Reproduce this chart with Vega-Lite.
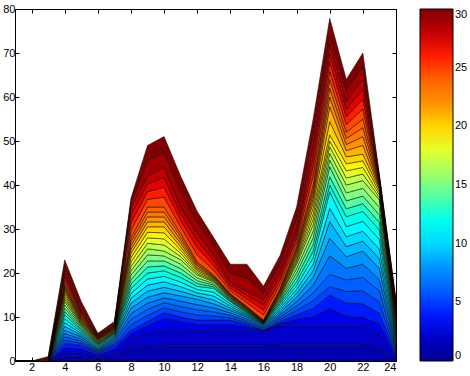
{
"$schema": "https://vega.github.io/schema/vega-lite/v6.json",
"width": 381, "height": 352,
"autosize": "none",
"padding": {"left": 15, "top": 9, "right": 74, "bottom": 15},
"background": "white",
"config": {
  "view": {"stroke": "black", "strokeWidth": 1},
  "font": "Liberation Sans",
  "axis": {"grid": false, "domain": false, "tickColor": "black", "tickSize": -4, "labelColor": "black", "labelFontSize": 11, "labelFont": "Liberation Sans", "title": null, "labelPadding": 4},
  "legend": {"gradientLength": 352, "gradientThickness": 33, "offset": 23, "padding": 0, "labelFontSize": 11, "labelColor": "black", "labelOffset": 3, "gradientStrokeColor": "black", "gradientStrokeWidth": 1}
},
"datasets": {"d": [
{"x":1,"k":1,"v":0},{"x":1,"k":2,"v":0},{"x":1,"k":3,"v":0},{"x":1,"k":4,"v":0},{"x":1,"k":5,"v":0},{"x":1,"k":6,"v":0},{"x":1,"k":7,"v":0},{"x":1,"k":8,"v":0},{"x":1,"k":9,"v":0},{"x":1,"k":10,"v":0},{"x":1,"k":11,"v":0},{"x":1,"k":12,"v":0},{"x":1,"k":13,"v":0},{"x":1,"k":14,"v":0},{"x":1,"k":15,"v":0},{"x":1,"k":16,"v":0},{"x":1,"k":17,"v":0},{"x":1,"k":18,"v":0},{"x":1,"k":19,"v":0},{"x":1,"k":20,"v":0},{"x":1,"k":21,"v":0},{"x":1,"k":22,"v":0},{"x":1,"k":23,"v":0},{"x":1,"k":24,"v":0},{"x":1,"k":25,"v":0},{"x":1,"k":26,"v":0},{"x":1,"k":27,"v":0},{"x":1,"k":28,"v":0},{"x":1,"k":29,"v":0},{"x":1,"k":30,"v":0},
{"x":2,"k":1,"v":0},{"x":2,"k":2,"v":0},{"x":2,"k":3,"v":0},{"x":2,"k":4,"v":0},{"x":2,"k":5,"v":0},{"x":2,"k":6,"v":0},{"x":2,"k":7,"v":0},{"x":2,"k":8,"v":0},{"x":2,"k":9,"v":0},{"x":2,"k":10,"v":0},{"x":2,"k":11,"v":0},{"x":2,"k":12,"v":0},{"x":2,"k":13,"v":0},{"x":2,"k":14,"v":0},{"x":2,"k":15,"v":0},{"x":2,"k":16,"v":0},{"x":2,"k":17,"v":0},{"x":2,"k":18,"v":0},{"x":2,"k":19,"v":0},{"x":2,"k":20,"v":0},{"x":2,"k":21,"v":0},{"x":2,"k":22,"v":0},{"x":2,"k":23,"v":0},{"x":2,"k":24,"v":0},{"x":2,"k":25,"v":0},{"x":2,"k":26,"v":0},{"x":2,"k":27,"v":0},{"x":2,"k":28,"v":0},{"x":2,"k":29,"v":0},{"x":2,"k":30,"v":0},
{"x":3,"k":1,"v":0},{"x":3,"k":2,"v":0},{"x":3,"k":3,"v":0},{"x":3,"k":4,"v":0},{"x":3,"k":5,"v":0},{"x":3,"k":6,"v":0},{"x":3,"k":7,"v":0},{"x":3,"k":8,"v":0},{"x":3,"k":9,"v":0},{"x":3,"k":10,"v":0},{"x":3,"k":11,"v":0},{"x":3,"k":12,"v":0},{"x":3,"k":13,"v":0},{"x":3,"k":14,"v":0},{"x":3,"k":15,"v":0},{"x":3,"k":16,"v":0},{"x":3,"k":17,"v":0},{"x":3,"k":18,"v":0},{"x":3,"k":19,"v":0},{"x":3,"k":20,"v":0},{"x":3,"k":21,"v":0},{"x":3,"k":22,"v":0},{"x":3,"k":23,"v":0},{"x":3,"k":24,"v":0},{"x":3,"k":25,"v":0},{"x":3,"k":26,"v":0},{"x":3,"k":27,"v":0},{"x":3,"k":28,"v":0},{"x":3,"k":29,"v":0.5},{"x":3,"k":30,"v":0.5},
{"x":4,"k":1,"v":1},{"x":4,"k":2,"v":1},{"x":4,"k":3,"v":1},{"x":4,"k":4,"v":1},{"x":4,"k":5,"v":0.75},{"x":4,"k":6,"v":0.75},{"x":4,"k":7,"v":0.75},{"x":4,"k":8,"v":0.75},{"x":4,"k":9,"v":0.875},{"x":4,"k":10,"v":0.875},{"x":4,"k":11,"v":0.875},{"x":4,"k":12,"v":0.875},{"x":4,"k":13,"v":0.75},{"x":4,"k":14,"v":0.75},{"x":4,"k":15,"v":0.75},{"x":4,"k":16,"v":0.75},{"x":4,"k":17,"v":0.575},{"x":4,"k":18,"v":0.575},{"x":4,"k":19,"v":0.575},{"x":4,"k":20,"v":0.575},{"x":4,"k":21,"v":0.425},{"x":4,"k":22,"v":0.425},{"x":4,"k":23,"v":0.425},{"x":4,"k":24,"v":0.425},{"x":4,"k":25,"v":0.75},{"x":4,"k":26,"v":0.75},{"x":4,"k":27,"v":0.75},{"x":4,"k":28,"v":0.75},{"x":4,"k":29,"v":1.25},{"x":4,"k":30,"v":1.25},
{"x":5,"k":1,"v":0.9},{"x":5,"k":2,"v":0.9},{"x":5,"k":3,"v":0.9},{"x":5,"k":4,"v":0.9},{"x":5,"k":5,"v":0.475},{"x":5,"k":6,"v":0.475},{"x":5,"k":7,"v":0.475},{"x":5,"k":8,"v":0.475},{"x":5,"k":9,"v":0.375},{"x":5,"k":10,"v":0.375},{"x":5,"k":11,"v":0.375},{"x":5,"k":12,"v":0.375},{"x":5,"k":13,"v":0.3},{"x":5,"k":14,"v":0.3},{"x":5,"k":15,"v":0.3},{"x":5,"k":16,"v":0.3},{"x":5,"k":17,"v":0.2},{"x":5,"k":18,"v":0.2},{"x":5,"k":19,"v":0.2},{"x":5,"k":20,"v":0.2},{"x":5,"k":21,"v":0.25},{"x":5,"k":22,"v":0.25},{"x":5,"k":23,"v":0.25},{"x":5,"k":24,"v":0.25},{"x":5,"k":25,"v":0.375},{"x":5,"k":26,"v":0.375},{"x":5,"k":27,"v":0.375},{"x":5,"k":28,"v":0.375},{"x":5,"k":29,"v":1},{"x":5,"k":30,"v":1},
{"x":6,"k":1,"v":0.45},{"x":6,"k":2,"v":0.45},{"x":6,"k":3,"v":0.45},{"x":6,"k":4,"v":0.45},{"x":6,"k":5,"v":0.225},{"x":6,"k":6,"v":0.225},{"x":6,"k":7,"v":0.225},{"x":6,"k":8,"v":0.225},{"x":6,"k":9,"v":0.225},{"x":6,"k":10,"v":0.225},{"x":6,"k":11,"v":0.225},{"x":6,"k":12,"v":0.225},{"x":6,"k":13,"v":0.15},{"x":6,"k":14,"v":0.15},{"x":6,"k":15,"v":0.15},{"x":6,"k":16,"v":0.15},{"x":6,"k":17,"v":0.15},{"x":6,"k":18,"v":0.15},{"x":6,"k":19,"v":0.15},{"x":6,"k":20,"v":0.15},{"x":6,"k":21,"v":0.1},{"x":6,"k":22,"v":0.1},{"x":6,"k":23,"v":0.1},{"x":6,"k":24,"v":0.1},{"x":6,"k":25,"v":0.15},{"x":6,"k":26,"v":0.15},{"x":6,"k":27,"v":0.15},{"x":6,"k":28,"v":0.15},{"x":6,"k":29,"v":0.25},{"x":6,"k":30,"v":0.25},
{"x":7,"k":1,"v":0.9},{"x":7,"k":2,"v":0.9},{"x":7,"k":3,"v":0.9},{"x":7,"k":4,"v":0.9},{"x":7,"k":5,"v":0.4},{"x":7,"k":6,"v":0.4},{"x":7,"k":7,"v":0.4},{"x":7,"k":8,"v":0.4},{"x":7,"k":9,"v":0.25},{"x":7,"k":10,"v":0.25},{"x":7,"k":11,"v":0.25},{"x":7,"k":12,"v":0.25},{"x":7,"k":13,"v":0.125},{"x":7,"k":14,"v":0.125},{"x":7,"k":15,"v":0.125},{"x":7,"k":16,"v":0.125},{"x":7,"k":17,"v":0.125},{"x":7,"k":18,"v":0.125},{"x":7,"k":19,"v":0.125},{"x":7,"k":20,"v":0.125},{"x":7,"k":21,"v":0.1},{"x":7,"k":22,"v":0.1},{"x":7,"k":23,"v":0.1},{"x":7,"k":24,"v":0.1},{"x":7,"k":25,"v":0.15},{"x":7,"k":26,"v":0.15},{"x":7,"k":27,"v":0.15},{"x":7,"k":28,"v":0.15},{"x":7,"k":29,"v":0.4},{"x":7,"k":30,"v":0.4},
{"x":8,"k":1,"v":3.0},{"x":8,"k":2,"v":2.2},{"x":8,"k":3,"v":1.0},{"x":8,"k":4,"v":0.8},{"x":8,"k":5,"v":1.25},{"x":8,"k":6,"v":1.25},{"x":8,"k":7,"v":1.25},{"x":8,"k":8,"v":1.25},{"x":8,"k":9,"v":1.125},{"x":8,"k":10,"v":1.125},{"x":8,"k":11,"v":1.125},{"x":8,"k":12,"v":1.125},{"x":8,"k":13,"v":1},{"x":8,"k":14,"v":1},{"x":8,"k":15,"v":1},{"x":8,"k":16,"v":1},{"x":8,"k":17,"v":1},{"x":8,"k":18,"v":1},{"x":8,"k":19,"v":1},{"x":8,"k":20,"v":1},{"x":8,"k":21,"v":0.875},{"x":8,"k":22,"v":0.875},{"x":8,"k":23,"v":0.875},{"x":8,"k":24,"v":0.875},{"x":8,"k":25,"v":1.75},{"x":8,"k":26,"v":1.75},{"x":8,"k":27,"v":1.75},{"x":8,"k":28,"v":1.75},{"x":8,"k":29,"v":1},{"x":8,"k":30,"v":1},
{"x":9,"k":1,"v":3.2},{"x":9,"k":2,"v":3.0},{"x":9,"k":3,"v":1.8},{"x":9,"k":4,"v":1.0},{"x":9,"k":5,"v":1.375},{"x":9,"k":6,"v":1.375},{"x":9,"k":7,"v":1.375},{"x":9,"k":8,"v":1.375},{"x":9,"k":9,"v":1.375},{"x":9,"k":10,"v":1.375},{"x":9,"k":11,"v":1.375},{"x":9,"k":12,"v":1.375},{"x":9,"k":13,"v":1.375},{"x":9,"k":14,"v":1.375},{"x":9,"k":15,"v":1.375},{"x":9,"k":16,"v":1.375},{"x":9,"k":17,"v":1.25},{"x":9,"k":18,"v":1.25},{"x":9,"k":19,"v":1.25},{"x":9,"k":20,"v":1.25},{"x":9,"k":21,"v":1.125},{"x":9,"k":22,"v":1.125},{"x":9,"k":23,"v":1.125},{"x":9,"k":24,"v":1.125},{"x":9,"k":25,"v":1.75},{"x":9,"k":26,"v":1.75},{"x":9,"k":27,"v":1.75},{"x":9,"k":28,"v":1.75},{"x":9,"k":29,"v":3.5},{"x":9,"k":30,"v":3.5},
{"x":10,"k":1,"v":3.6},{"x":10,"k":2,"v":3.4},{"x":10,"k":3,"v":2.7},{"x":10,"k":4,"v":1.3},{"x":10,"k":5,"v":1.125},{"x":10,"k":6,"v":1.125},{"x":10,"k":7,"v":1.125},{"x":10,"k":8,"v":1.125},{"x":10,"k":9,"v":1.25},{"x":10,"k":10,"v":1.25},{"x":10,"k":11,"v":1.25},{"x":10,"k":12,"v":1.25},{"x":10,"k":13,"v":1.125},{"x":10,"k":14,"v":1.125},{"x":10,"k":15,"v":1.125},{"x":10,"k":16,"v":1.125},{"x":10,"k":17,"v":1.375},{"x":10,"k":18,"v":1.375},{"x":10,"k":19,"v":1.375},{"x":10,"k":20,"v":1.375},{"x":10,"k":21,"v":1.125},{"x":10,"k":22,"v":1.125},{"x":10,"k":23,"v":1.125},{"x":10,"k":24,"v":1.125},{"x":10,"k":25,"v":2.25},{"x":10,"k":26,"v":2.25},{"x":10,"k":27,"v":2.25},{"x":10,"k":28,"v":2.25},{"x":10,"k":29,"v":3.5},{"x":10,"k":30,"v":3.5},
{"x":11,"k":1,"v":3.6},{"x":11,"k":2,"v":3.4},{"x":11,"k":3,"v":2.0},{"x":11,"k":4,"v":1.0},{"x":11,"k":5,"v":1.2},{"x":11,"k":6,"v":1.2},{"x":11,"k":7,"v":1.2},{"x":11,"k":8,"v":1.2},{"x":11,"k":9,"v":1.05},{"x":11,"k":10,"v":1.05},{"x":11,"k":11,"v":1.05},{"x":11,"k":12,"v":1.05},{"x":11,"k":13,"v":1},{"x":11,"k":14,"v":1},{"x":11,"k":15,"v":1},{"x":11,"k":16,"v":1},{"x":11,"k":17,"v":0.75},{"x":11,"k":18,"v":0.75},{"x":11,"k":19,"v":0.75},{"x":11,"k":20,"v":0.75},{"x":11,"k":21,"v":0.75},{"x":11,"k":22,"v":0.75},{"x":11,"k":23,"v":0.75},{"x":11,"k":24,"v":0.75},{"x":11,"k":25,"v":1.5},{"x":11,"k":26,"v":1.5},{"x":11,"k":27,"v":1.5},{"x":11,"k":28,"v":1.5},{"x":11,"k":29,"v":3.5},{"x":11,"k":30,"v":3.5},
{"x":12,"k":1,"v":3.6},{"x":12,"k":2,"v":3.4},{"x":12,"k":3,"v":1.3},{"x":12,"k":4,"v":1.0},{"x":12,"k":5,"v":1.175},{"x":12,"k":6,"v":1.175},{"x":12,"k":7,"v":1.175},{"x":12,"k":8,"v":1.175},{"x":12,"k":9,"v":0.75},{"x":12,"k":10,"v":0.75},{"x":12,"k":11,"v":0.75},{"x":12,"k":12,"v":0.75},{"x":12,"k":13,"v":0.625},{"x":12,"k":14,"v":0.625},{"x":12,"k":15,"v":0.625},{"x":12,"k":16,"v":0.625},{"x":12,"k":17,"v":0.375},{"x":12,"k":18,"v":0.375},{"x":12,"k":19,"v":0.375},{"x":12,"k":20,"v":0.375},{"x":12,"k":21,"v":0.375},{"x":12,"k":22,"v":0.375},{"x":12,"k":23,"v":0.375},{"x":12,"k":24,"v":0.375},{"x":12,"k":25,"v":1.625},{"x":12,"k":26,"v":1.625},{"x":12,"k":27,"v":1.625},{"x":12,"k":28,"v":1.625},{"x":12,"k":29,"v":2.5},{"x":12,"k":30,"v":2.5},
{"x":13,"k":1,"v":3.6},{"x":13,"k":2,"v":3.4},{"x":13,"k":3,"v":1.3},{"x":13,"k":4,"v":1.0},{"x":13,"k":5,"v":0.925},{"x":13,"k":6,"v":0.925},{"x":13,"k":7,"v":0.925},{"x":13,"k":8,"v":0.925},{"x":13,"k":9,"v":0.875},{"x":13,"k":10,"v":0.875},{"x":13,"k":11,"v":0.875},{"x":13,"k":12,"v":0.875},{"x":13,"k":13,"v":0.375},{"x":13,"k":14,"v":0.375},{"x":13,"k":15,"v":0.375},{"x":13,"k":16,"v":0.375},{"x":13,"k":17,"v":0.2},{"x":13,"k":18,"v":0.2},{"x":13,"k":19,"v":0.2},{"x":13,"k":20,"v":0.2},{"x":13,"k":21,"v":0.175},{"x":13,"k":22,"v":0.175},{"x":13,"k":23,"v":0.175},{"x":13,"k":24,"v":0.175},{"x":13,"k":25,"v":1.125},{"x":13,"k":26,"v":1.125},{"x":13,"k":27,"v":1.125},{"x":13,"k":28,"v":1.125},{"x":13,"k":29,"v":2},{"x":13,"k":30,"v":2},
{"x":14,"k":1,"v":3.6},{"x":14,"k":2,"v":3.4},{"x":14,"k":3,"v":1.3},{"x":14,"k":4,"v":1.0},{"x":14,"k":5,"v":0.55},{"x":14,"k":6,"v":0.55},{"x":14,"k":7,"v":0.55},{"x":14,"k":8,"v":0.55},{"x":14,"k":9,"v":0.5},{"x":14,"k":10,"v":0.5},{"x":14,"k":11,"v":0.5},{"x":14,"k":12,"v":0.5},{"x":14,"k":13,"v":0.2},{"x":14,"k":14,"v":0.2},{"x":14,"k":15,"v":0.2},{"x":14,"k":16,"v":0.2},{"x":14,"k":17,"v":0.125},{"x":14,"k":18,"v":0.125},{"x":14,"k":19,"v":0.125},{"x":14,"k":20,"v":0.125},{"x":14,"k":21,"v":0.125},{"x":14,"k":22,"v":0.125},{"x":14,"k":23,"v":0.125},{"x":14,"k":24,"v":0.125},{"x":14,"k":25,"v":0.675},{"x":14,"k":26,"v":0.675},{"x":14,"k":27,"v":0.675},{"x":14,"k":28,"v":0.675},{"x":14,"k":29,"v":2},{"x":14,"k":30,"v":2},
{"x":15,"k":1,"v":3.6},{"x":15,"k":2,"v":3.4},{"x":15,"k":3,"v":0.8},{"x":15,"k":4,"v":0.5},{"x":15,"k":5,"v":0.425},{"x":15,"k":6,"v":0.425},{"x":15,"k":7,"v":0.425},{"x":15,"k":8,"v":0.425},{"x":15,"k":9,"v":0.25},{"x":15,"k":10,"v":0.25},{"x":15,"k":11,"v":0.25},{"x":15,"k":12,"v":0.25},{"x":15,"k":13,"v":0.15},{"x":15,"k":14,"v":0.15},{"x":15,"k":15,"v":0.15},{"x":15,"k":16,"v":0.15},{"x":15,"k":17,"v":0.1},{"x":15,"k":18,"v":0.1},{"x":15,"k":19,"v":0.1},{"x":15,"k":20,"v":0.1},{"x":15,"k":21,"v":0.1},{"x":15,"k":22,"v":0.1},{"x":15,"k":23,"v":0.1},{"x":15,"k":24,"v":0.1},{"x":15,"k":25,"v":0.85},{"x":15,"k":26,"v":0.85},{"x":15,"k":27,"v":0.85},{"x":15,"k":28,"v":0.85},{"x":15,"k":29,"v":3.1},{"x":15,"k":30,"v":3.1},
{"x":16,"k":1,"v":3.6},{"x":16,"k":2,"v":3.4},{"x":16,"k":3,"v":0},{"x":16,"k":4,"v":0},{"x":16,"k":5,"v":0.3},{"x":16,"k":6,"v":0.3},{"x":16,"k":7,"v":0.3},{"x":16,"k":8,"v":0.3},{"x":16,"k":9,"v":0.1},{"x":16,"k":10,"v":0.1},{"x":16,"k":11,"v":0.1},{"x":16,"k":12,"v":0.1},{"x":16,"k":13,"v":0.05},{"x":16,"k":14,"v":0.05},{"x":16,"k":15,"v":0.05},{"x":16,"k":16,"v":0.05},{"x":16,"k":17,"v":0.05},{"x":16,"k":18,"v":0.05},{"x":16,"k":19,"v":0.05},{"x":16,"k":20,"v":0.05},{"x":16,"k":21,"v":0.075},{"x":16,"k":22,"v":0.075},{"x":16,"k":23,"v":0.075},{"x":16,"k":24,"v":0.075},{"x":16,"k":25,"v":1.15},{"x":16,"k":26,"v":1.15},{"x":16,"k":27,"v":1.15},{"x":16,"k":28,"v":1.15},{"x":16,"k":29,"v":1.55},{"x":16,"k":30,"v":1.55},
{"x":17,"k":1,"v":3.8},{"x":17,"k":2,"v":4.2},{"x":17,"k":3,"v":0.5},{"x":17,"k":4,"v":0.5},{"x":17,"k":5,"v":0.5},{"x":17,"k":6,"v":0.5},{"x":17,"k":7,"v":0.5},{"x":17,"k":8,"v":0.5},{"x":17,"k":9,"v":0.5},{"x":17,"k":10,"v":0.5},{"x":17,"k":11,"v":0.5},{"x":17,"k":12,"v":0.5},{"x":17,"k":13,"v":0.375},{"x":17,"k":14,"v":0.375},{"x":17,"k":15,"v":0.375},{"x":17,"k":16,"v":0.375},{"x":17,"k":17,"v":0.25},{"x":17,"k":18,"v":0.25},{"x":17,"k":19,"v":0.25},{"x":17,"k":20,"v":0.25},{"x":17,"k":21,"v":0.25},{"x":17,"k":22,"v":0.25},{"x":17,"k":23,"v":0.25},{"x":17,"k":24,"v":0.25},{"x":17,"k":25,"v":1},{"x":17,"k":26,"v":1},{"x":17,"k":27,"v":1},{"x":17,"k":28,"v":1},{"x":17,"k":29,"v":1.75},{"x":17,"k":30,"v":1.75},
{"x":18,"k":1,"v":3.8},{"x":18,"k":2,"v":4.2},{"x":18,"k":3,"v":1.5},{"x":18,"k":4,"v":1.0},{"x":18,"k":5,"v":1},{"x":18,"k":6,"v":1},{"x":18,"k":7,"v":1},{"x":18,"k":8,"v":1},{"x":18,"k":9,"v":0.875},{"x":18,"k":10,"v":0.875},{"x":18,"k":11,"v":0.875},{"x":18,"k":12,"v":0.875},{"x":18,"k":13,"v":1},{"x":18,"k":14,"v":1},{"x":18,"k":15,"v":1},{"x":18,"k":16,"v":1},{"x":18,"k":17,"v":0.5},{"x":18,"k":18,"v":0.5},{"x":18,"k":19,"v":0.5},{"x":18,"k":20,"v":0.5},{"x":18,"k":21,"v":0.5},{"x":18,"k":22,"v":0.5},{"x":18,"k":23,"v":0.5},{"x":18,"k":24,"v":0.5},{"x":18,"k":25,"v":1},{"x":18,"k":26,"v":1},{"x":18,"k":27,"v":1},{"x":18,"k":28,"v":1},{"x":18,"k":29,"v":2.5},{"x":18,"k":30,"v":2.5},
{"x":19,"k":1,"v":3.8},{"x":19,"k":2,"v":4.2},{"x":19,"k":3,"v":2},{"x":19,"k":4,"v":2},{"x":19,"k":5,"v":1.75},{"x":19,"k":6,"v":1.75},{"x":19,"k":7,"v":1.75},{"x":19,"k":8,"v":1.75},{"x":19,"k":9,"v":1.5},{"x":19,"k":10,"v":1.5},{"x":19,"k":11,"v":1.5},{"x":19,"k":12,"v":1.5},{"x":19,"k":13,"v":1.5},{"x":19,"k":14,"v":1.5},{"x":19,"k":15,"v":1.5},{"x":19,"k":16,"v":1.5},{"x":19,"k":17,"v":1.25},{"x":19,"k":18,"v":1.25},{"x":19,"k":19,"v":1.25},{"x":19,"k":20,"v":1.25},{"x":19,"k":21,"v":1},{"x":19,"k":22,"v":1},{"x":19,"k":23,"v":1},{"x":19,"k":24,"v":1},{"x":19,"k":25,"v":2.25},{"x":19,"k":26,"v":2.25},{"x":19,"k":27,"v":2.25},{"x":19,"k":28,"v":2.25},{"x":19,"k":29,"v":3},{"x":19,"k":30,"v":3},
{"x":20,"k":1,"v":3.8},{"x":20,"k":2,"v":4.2},{"x":20,"k":3,"v":4.0},{"x":20,"k":4,"v":3.0},{"x":20,"k":5,"v":1.9},{"x":20,"k":6,"v":2.8},{"x":20,"k":7,"v":4.2},{"x":20,"k":8,"v":4.0},{"x":20,"k":9,"v":3.8},{"x":20,"k":10,"v":3.0},{"x":20,"k":11,"v":3.8},{"x":20,"k":12,"v":1.5},{"x":20,"k":13,"v":1.9},{"x":20,"k":14,"v":2.3},{"x":20,"k":15,"v":1.5},{"x":20,"k":16,"v":1.5},{"x":20,"k":17,"v":1.5},{"x":20,"k":18,"v":1.3},{"x":20,"k":19,"v":1.4},{"x":20,"k":20,"v":3.0},{"x":20,"k":21,"v":3.4},{"x":20,"k":22,"v":2.2},{"x":20,"k":23,"v":2.0},{"x":20,"k":24,"v":2.0},{"x":20,"k":25,"v":1.8},{"x":20,"k":26,"v":2.2},{"x":20,"k":27,"v":1.9},{"x":20,"k":28,"v":2.1},{"x":20,"k":29,"v":2.1},{"x":20,"k":30,"v":3.8},
{"x":21,"k":1,"v":3.8},{"x":21,"k":2,"v":4.2},{"x":21,"k":3,"v":2.2},{"x":21,"k":4,"v":3.0},{"x":21,"k":5,"v":2.625},{"x":21,"k":6,"v":2.625},{"x":21,"k":7,"v":2.625},{"x":21,"k":8,"v":2.625},{"x":21,"k":9,"v":2.275},{"x":21,"k":10,"v":2.275},{"x":21,"k":11,"v":2.275},{"x":21,"k":12,"v":2.275},{"x":21,"k":13,"v":1.8},{"x":21,"k":14,"v":1.8},{"x":21,"k":15,"v":1.8},{"x":21,"k":16,"v":1.8},{"x":21,"k":17,"v":1.6},{"x":21,"k":18,"v":1.6},{"x":21,"k":19,"v":1.6},{"x":21,"k":20,"v":1.6},{"x":21,"k":21,"v":1.4},{"x":21,"k":22,"v":1.4},{"x":21,"k":23,"v":1.4},{"x":21,"k":24,"v":1.4},{"x":21,"k":25,"v":1.75},{"x":21,"k":26,"v":1.75},{"x":21,"k":27,"v":1.75},{"x":21,"k":28,"v":1.75},{"x":21,"k":29,"v":2.5},{"x":21,"k":30,"v":2.5},
{"x":22,"k":1,"v":3.8},{"x":22,"k":2,"v":4.2},{"x":22,"k":3,"v":2.0},{"x":22,"k":4,"v":3.0},{"x":22,"k":5,"v":3},{"x":22,"k":6,"v":3},{"x":22,"k":7,"v":3},{"x":22,"k":8,"v":3},{"x":22,"k":9,"v":2.25},{"x":22,"k":10,"v":2.25},{"x":22,"k":11,"v":2.25},{"x":22,"k":12,"v":2.25},{"x":22,"k":13,"v":1.75},{"x":22,"k":14,"v":1.75},{"x":22,"k":15,"v":1.75},{"x":22,"k":16,"v":1.75},{"x":22,"k":17,"v":1.5},{"x":22,"k":18,"v":1.5},{"x":22,"k":19,"v":1.5},{"x":22,"k":20,"v":1.5},{"x":22,"k":21,"v":2},{"x":22,"k":22,"v":2},{"x":22,"k":23,"v":2},{"x":22,"k":24,"v":2},{"x":22,"k":25,"v":2.25},{"x":22,"k":26,"v":2.25},{"x":22,"k":27,"v":2.25},{"x":22,"k":28,"v":2.25},{"x":22,"k":29,"v":3},{"x":22,"k":30,"v":3},
{"x":23,"k":1,"v":3.0},{"x":23,"k":2,"v":3.0},{"x":23,"k":3,"v":2.4},{"x":23,"k":4,"v":2.5},{"x":23,"k":5,"v":2.525},{"x":23,"k":6,"v":2.525},{"x":23,"k":7,"v":2.525},{"x":23,"k":8,"v":2.525},{"x":23,"k":9,"v":2.2},{"x":23,"k":10,"v":2.2},{"x":23,"k":11,"v":2.2},{"x":23,"k":12,"v":2.2},{"x":23,"k":13,"v":1.7},{"x":23,"k":14,"v":1.7},{"x":23,"k":15,"v":1.7},{"x":23,"k":16,"v":1.7},{"x":23,"k":17,"v":0.6},{"x":23,"k":18,"v":0.6},{"x":23,"k":19,"v":0.6},{"x":23,"k":20,"v":0.6},{"x":23,"k":21,"v":0.325},{"x":23,"k":22,"v":0.325},{"x":23,"k":23,"v":0.325},{"x":23,"k":24,"v":0.325},{"x":23,"k":25,"v":0.3},{"x":23,"k":26,"v":0.3},{"x":23,"k":27,"v":0.3},{"x":23,"k":28,"v":0.3},{"x":23,"k":29,"v":0.4},{"x":23,"k":30,"v":0.4},
{"x":24,"k":1,"v":0.375},{"x":24,"k":2,"v":0.375},{"x":24,"k":3,"v":0.375},{"x":24,"k":4,"v":0.375},{"x":24,"k":5,"v":0.425},{"x":24,"k":6,"v":0.425},{"x":24,"k":7,"v":0.425},{"x":24,"k":8,"v":0.425},{"x":24,"k":9,"v":0.575},{"x":24,"k":10,"v":0.575},{"x":24,"k":11,"v":0.575},{"x":24,"k":12,"v":0.575},{"x":24,"k":13,"v":0.5},{"x":24,"k":14,"v":0.5},{"x":24,"k":15,"v":0.5},{"x":24,"k":16,"v":0.5},{"x":24,"k":17,"v":0.5},{"x":24,"k":18,"v":0.5},{"x":24,"k":19,"v":0.5},{"x":24,"k":20,"v":0.5},{"x":24,"k":21,"v":0.375},{"x":24,"k":22,"v":0.375},{"x":24,"k":23,"v":0.375},{"x":24,"k":24,"v":0.375},{"x":24,"k":25,"v":0.45},{"x":24,"k":26,"v":0.45},{"x":24,"k":27,"v":0.45},{"x":24,"k":28,"v":0.45},{"x":24,"k":29,"v":0.6},{"x":24,"k":30,"v":0.6}
]},
"data": {"name": "d"},
"layer": [
  {
    "mark": {"type": "area", "stroke": "black", "strokeWidth": 0.5, "opacity": 1, "interpolate": "linear"},
    "encoding": {
      "x": {"field": "x", "type": "quantitative", "scale": {"domain": [1, 24], "nice": false}, "axis": {"values": [2,4,6,8,10,12,14,16,18,20,22,24], "orient": "bottom"}},
      "y": {"field": "v", "type": "quantitative", "stack": "zero", "scale": {"domain": [0, 80], "nice": false}, "axis": {"values": [0,10,20,30,40,50,60,70,80], "orient": "left"}},
      "color": {"field": "k", "type": "quantitative", "scale": {"domain": [0, 30], "range": ["#00008f","#0000ff","#0080ff","#00ffff","#80ff80","#ffff00","#ff8000","#ff0000","#800000"]}, "legend": {"title": null, "values": [0,5,10,15,20,25,30], "direction": "vertical", "orient": "right", "encode": {"labels": {"update": {"baseline": {"value": "middle"}}}}}},
      "detail": {"field": "k", "type": "quantitative"},
      "order": {"field": "k", "type": "quantitative", "sort": "ascending"}
    }
  },
  {
    "mark": {"type": "point", "opacity": 0},
    "encoding": {
      "x": {"field": "x", "type": "quantitative", "axis": {"values": [2,4,6,8,10,12,14,16,18,20,22,24], "orient": "top", "labels": false}},
      "y": {"field": "v", "type": "quantitative", "axis": {"values": [0,10,20,30,40,50,60,70,80], "orient": "right", "labels": false}}
    }
  }
]
}
